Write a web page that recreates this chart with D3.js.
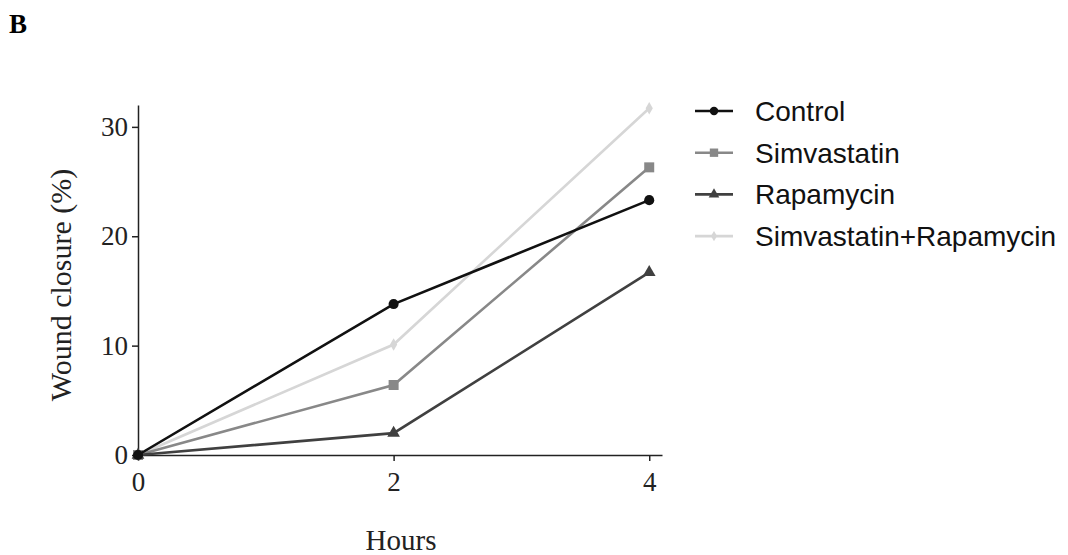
<!DOCTYPE html>
<html>
<head>
<meta charset="utf-8">
<script src="https://cdn.jsdelivr.net/npm/d3@7"></script>
<style>
  body { margin: 0; background: #fff; }
  .axis text { font-family: "Liberation Serif", "Times New Roman", serif; font-size: 27px; fill: #222; }
  .axis path, .axis line { stroke: #222; stroke-width: 1.5; }
</style>
</head>
<body>
<div id="viz"></div>
<script>
var hours = [0, 2, 4];
var seriesNames = ["Control", "Simvastatin", "Rapamycin", "Simvastatin+Rapamycin"];
var control = [0, 13.8, 23.3];
var simvastatin = [0, 6.4, 26.3];
var rapamycin = [0, 2.0, 16.7];
var simRap = [0, 10.1, 31.7];
var yTicks = [0, 10, 20, 30];
var xTicks = [0, 2, 4];

var width = 1068, height = 555;
var svg = d3.select("#viz").append("svg").attr("width", width).attr("height", height);

var color = {
  "Control": "#111111",
  "Simvastatin": "#888888",
  "Rapamycin": "#404040",
  "Simvastatin+Rapamycin": "#d6d6d6"
};
var symbols = {
  "Control": d3.symbolCircle,
  "Simvastatin": d3.symbolSquare,
  "Rapamycin": d3.symbolTriangle,
  "Simvastatin+Rapamycin": d3.symbolDiamond
};
var symSize = {
  "Control": 80,
  "Simvastatin": 100,
  "Rapamycin": 70,
  "Simvastatin+Rapamycin": 45
};

var series = seriesNames.map(function(n, i) {
  return { name: n, values: [control, simvastatin, rapamycin, simRap][i] };
});

var x = d3.scaleLinear().domain([0, 4.1]).range([138, 662]);
var y = d3.scaleLinear().domain([0, 32]).range([455, 105]);

// axes
svg.append("g")
    .attr("class", "axis")
    .attr("transform", "translate(0," + y(0) + ")")
    .call(d3.axisBottom(x).tickValues(xTicks).tickFormat(d3.format("d")).tickSize(6).tickSizeOuter(0).tickPadding(11));

svg.append("g")
    .attr("class", "axis")
    .attr("transform", "translate(" + x(0) + ",0)")
    .call(d3.axisLeft(y).tickValues(yTicks).tickFormat(d3.format("d")).tickSize(6).tickSizeOuter(0).tickPadding(4));

// lines, light one drawn first
var line = d3.line()
    .x(function(d, i) { return x(hours[i]); })
    .y(function(d) { return y(d); });

var order = [3, 1, 2, 0];
order.forEach(function(k) {
  var s = series[k];
  svg.append("path")
      .datum(s.values)
      .attr("fill", "none")
      .attr("stroke", color[s.name])
      .attr("stroke-width", 2.6)
      .attr("d", line);

  svg.selectAll(null)
    .data(s.values)
    .enter().append("path")
      .attr("transform", function(d, i) { return "translate(" + x(hours[i]) + "," + y(d) + ")"; })
      .attr("d", d3.symbol().type(symbols[s.name]).size(symSize[s.name]))
      .attr("fill", color[s.name]);
});

// axis titles
svg.append("text")
    .attr("transform", "translate(71,285) rotate(-90)")
    .attr("text-anchor", "middle")
    .style("font-family", "Liberation Serif, Times New Roman, serif")
    .style("font-size", "30px")
    .style("fill", "#222")
    .text("Wound closure (%)");

svg.append("text")
    .attr("x", 401)
    .attr("y", 550)
    .attr("text-anchor", "middle")
    .style("font-family", "Liberation Serif, Times New Roman, serif")
    .style("font-size", "29px")
    .style("fill", "#222")
    .text("Hours");

// panel letter
svg.append("text")
    .attr("x", 9)
    .attr("y", 33)
    .style("font-family", "Liberation Serif, Times New Roman, serif")
    .style("font-weight", "bold")
    .style("font-size", "27px")
    .text("B");

// legend
var legend = svg.selectAll(".legend")
    .data(series)
  .enter().append("g")
    .attr("class", "legend")
    .attr("transform", function(d, i) { return "translate(695," + (111 + i * 41.7) + ")"; });

legend.append("line")
    .attr("x1", 0).attr("x2", 38)
    .attr("y1", 0).attr("y2", 0)
    .attr("stroke", function(d) { return color[d.name]; })
    .attr("stroke-width", 2.6);

legend.append("path")
    .attr("transform", "translate(19,0)")
    .attr("d", function(d) { return d3.symbol().type(symbols[d.name]).size(symSize[d.name] * 0.7)(); })
    .attr("fill", function(d) { return color[d.name]; });

legend.append("text")
    .attr("x", 60)
    .attr("y", 0)
    .attr("dy", "0.35em")
    .style("font-family", "Liberation Sans, Arial, sans-serif")
    .style("font-size", "28px")
    .style("fill", "#111")
    .text(function(d) { return d.name; });
</script>
</body>
</html>
